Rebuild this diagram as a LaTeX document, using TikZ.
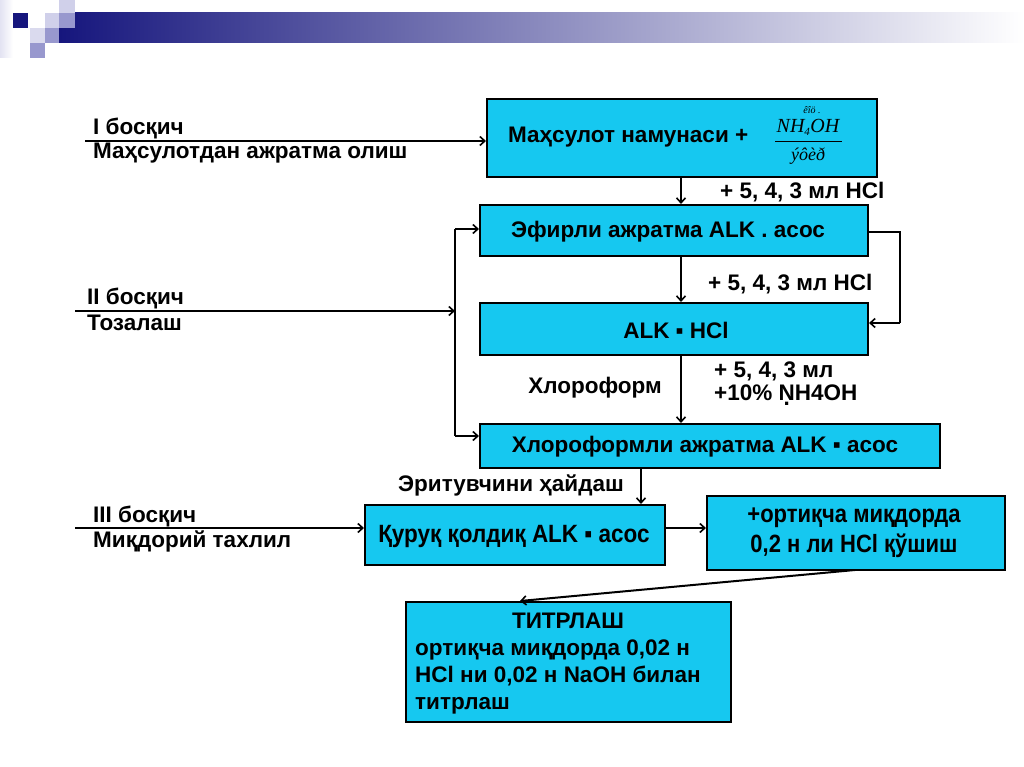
\documentclass[tikz,border=0pt]{standalone}
\usepackage{fontspec}
\setmainfont{Liberation Sans}
\newfontfamily\tnr{Liberation Serif}
\usetikzlibrary{arrows.meta}
\definecolor{boxcyan}{RGB}{22,200,240}
\definecolor{navy}{RGB}{22,22,125}
\definecolor{lavA}{RGB}{208,208,234}
\definecolor{lavB}{RGB}{152,152,206}
\newcommand{\dotN}{\ooalign{N\cr\hidewidth\raisebox{-0.22em}{.}\hidewidth\cr}}
\begin{document}
\begin{tikzpicture}[x=1pt,y=-1pt,
  box/.style={draw=black,line width=2pt,fill=boxcyan,inner sep=0pt},
  lbl/.style={font=\fontsize{22.5}{27}\selectfont\bfseries,inner sep=0pt},
  ln/.style={line width=2pt},
  arr/.style={line width=2pt,-{Straight Barb[length=5pt,width=9pt,line width=1.6pt]}}]
\useasboundingbox (0,0) rectangle (1024,767);
% header decoration
\shade[left color=lavA!60,right color=white] (0,0) rectangle (13,58);
\shade[left color=navy,right color=white] (59,13) rectangle (1024,43);
\fill[navy] (13,13) rectangle (28,28);
\fill[lavA] (45,13) rectangle (59,28);
\fill[lavB] (59,13) rectangle (75,28);
\fill[lavA] (59,0) rectangle (75,13);
\fill[lavA!80] (30,28) rectangle (45,43);
\fill[lavB] (45,28) rectangle (59,43);
\fill[lavB] (30,43) rectangle (45,58);
% boxes
\node[box,minimum width=390,minimum height=78] (b1) at (682,138) {};
\node[box,minimum width=388,minimum height=51] (b2) at (674,230.5) {};
\node[box,minimum width=388,minimum height=52] (b3) at (674,329) {};
\node[box,minimum width=460,minimum height=44] (b4) at (710,446) {};
\node[box,minimum width=300,minimum height=60] (b5) at (515,535) {};
\node[box,minimum width=298,minimum height=74] (b6) at (856,533) {};
\node[box,minimum width=325,minimum height=120] (b7) at (568.5,662) {};
% box texts
\node[lbl,anchor=west] (t1) at (508,137) {Маҳсулот намунаси +};
\node[inner sep=0pt,font=\tnr\itshape\fontsize{10}{11}\selectfont] (f0) at (812,110) {êîö .};
\node[inner sep=0pt,font=\tnr\itshape\fontsize{20}{22}\selectfont] (f1) at (808,127) {NH$_{\mbox{\fontsize{11}{12}\selectfont 4}}$OH};
\draw[line width=0.8pt] (775,141) -- (842,141);
\node[inner sep=0pt,font=\tnr\itshape\fontsize{18}{20}\selectfont] (f2) at (808,156) {ýôèð};
\node[lbl] (t2) at (668,232) {Эфирли ажратма ALK . асос};
\node[lbl] (t3) at (676,330) {ALK ▪ HCl};
\node[lbl] (t4) at (705,447) {Хлороформли ажратма ALK ▪ асос};
\node[lbl,font=\fontsize{25}{30}\selectfont\bfseries] (t5) at (514,536) {\scalebox{0.9}[1]{Қуруқ қолдиқ ALK ▪ асос}};
\node[lbl,align=center,font=\fontsize{25}{30}\selectfont\bfseries] (t6) at (854,533) {\scalebox{0.88}[1]{+ортиқча миқдорда}\\\scalebox{0.88}[1]{0,2 н ли HCl қўшиш}};
\node[lbl] (t7a) at (568,621) {ТИТРЛАШ};
\node[lbl,anchor=west,align=left] (t7) at (415,677) {ортиқча миқдорда 0,02 н\\HCl ни 0,02 н NaOH билан\\титрлаш};
% side labels
\node[lbl,anchor=west] (l1a) at (93,128) {I босқич};
\node[lbl,anchor=west] (l1b) at (93,153) {Маҳсулотдан ажратма олиш};
\node[lbl,anchor=west] (l2a) at (87,298) {II босқич};
\node[lbl,anchor=west] (l2b) at (87,323) {Тозалаш};
\node[lbl,anchor=west] (l3a) at (93,516) {III босқич};
\node[lbl,anchor=west] (l3b) at (93,541) {Миқдорий тахлил};
% connector labels
\node[lbl,anchor=west] (c1l) at (720,192) {+ 5, 4, 3 мл HCl};
\node[lbl,anchor=west] (c2l) at (708,284) {+ 5, 4, 3 мл HCl};
\node[lbl] (c3l) at (595,388) {Хлороформ};
\node[lbl,anchor=west,align=left,font=\fontsize{22.5}{23}\selectfont\bfseries] (c3r) at (714,384) {+ 5, 4, 3 мл\\+10\% \dotN H4OH};
\node[lbl,anchor=east] (c4l) at (624,485) {Эритувчини ҳайдаш};
% coordinates
\coordinate (s1) at (85,141);
\coordinate (s2) at (75,311);
\coordinate (s3) at (75,528);
\coordinate (xa) at (681,0);
\coordinate (xb) at (641,0);
\coordinate (v1) at (455,229);
\coordinate (v2) at (455,436);
\coordinate (v3) at (455,311);
\coordinate (r1) at (900,232);
\coordinate (r2) at (900,323);
\coordinate (e7) at (520,601);
\coordinate (e6) at (855,570);
% connectors
\draw[arr] (s1) -- (b1.west |- s1);
\draw[arr] (b1.south -| xa) -- (b2.north -| xa);
\draw[arr] (b2.south -| xa) -- (b3.north -| xa);
\draw[arr] (b3.south -| xa) -- (b4.north -| xa);
\draw[arr] (b4.south -| xb) -- (b5.north -| xb);
\draw[ln] (b2.east |- r1) -- (r1) -- (r2);
\draw[arr] (r2) -- (b3.east |- r2);
\draw[ln] (v1) -- (v2);
\draw[arr] (v1) -- (b2.west |- v1);
\draw[arr] (v2) -- (b4.west |- v2);
\draw[arr] (s2) -- (v3);
\draw[arr] (s3) -- (b5.west |- s3);
\draw[arr] (b5.east |- s3) -- (b6.west |- s3);
\draw[arr] (e6) -- (e7);
\end{tikzpicture}
\end{document}
